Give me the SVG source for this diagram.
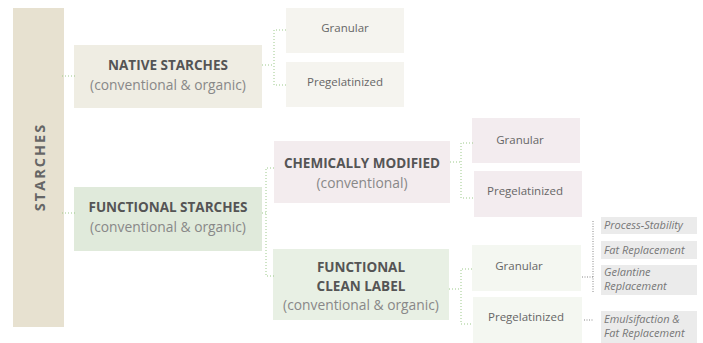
<svg xmlns="http://www.w3.org/2000/svg" width="703" height="343" viewBox="0 0 703 343">
<style>
text{font-family:"Open Sans","Noto Sans",sans-serif;}
.b{font-weight:bold;font-size:13.5px;fill:#555;text-anchor:middle;}
.n{font-size:13.8px;fill:#888;text-anchor:middle;}
.s{font-size:11.5px;fill:#666;text-anchor:middle;}
.i{font-size:11px;fill:#777;font-style:italic;}
.g{fill:none;stroke:#9cc98a;stroke-width:1;stroke-dasharray:1 2;}
.d{fill:none;stroke:#888;stroke-width:1;stroke-dasharray:1 1.5;}
</style>
<g id="starches">
<rect x="13" y="8" width="51" height="319" fill="#e7e1d0"/>
<text transform="translate(45,167) rotate(-90)" style="font-weight:bold;font-size:14.5px;fill:#666;text-anchor:middle;letter-spacing:2px">STARCHES</text>
</g>
<g id="native">
<rect x="74" y="45" width="188" height="63" fill="#efede3"/>
<text class="b" x="168" y="70">NATIVE STARCHES</text>
<text class="n" x="168" y="90">(conventional &amp; organic)</text>
</g>
<g id="native-granular">
<rect x="286" y="8" width="118" height="45" fill="#f5f4ef"/>
<text class="s" x="345" y="32">Granular</text>
</g>
<g id="native-pregel">
<rect x="286" y="62" width="118" height="45" fill="#f5f4ef"/>
<text class="s" x="345" y="86">Pregelatinized</text>
</g>
<g id="functional">
<rect x="74" y="187" width="188" height="64" fill="#e0eadb"/>
<text class="b" x="168" y="212">FUNCTIONAL STARCHES</text>
<text class="n" x="168" y="232">(conventional &amp; organic)</text>
</g>
<g id="chem">
<rect x="274" y="141" width="176" height="62" fill="#f3ecee"/>
<text class="b" x="362" y="168">CHEMICALLY MODIFIED</text>
<text class="n" x="362" y="188">(conventional)</text>
</g>
<g id="chem-granular">
<rect x="472" y="118" width="108" height="45" fill="#f3ecef"/>
<text class="s" x="520" y="144">Granular</text>
</g>
<g id="chem-pregel">
<rect x="474" y="171" width="108" height="46" fill="#f3ecef"/>
<text class="s" x="525" y="195">Pregelatinized</text>
</g>
<g id="fcl">
<rect x="273" y="249" width="176" height="71" fill="#e8f0e4"/>
<text class="b" x="361" y="272">FUNCTIONAL</text>
<text class="b" x="361" y="291">CLEAN LABEL</text>
<text class="n" x="361" y="310">(conventional &amp; organic)</text>
</g>
<g id="fcl-granular">
<rect x="472" y="245" width="109" height="46" fill="#f4f7f1"/>
<text class="s" x="519" y="270">Granular</text>
</g>
<g id="fcl-pregel">
<rect x="473" y="297" width="109" height="46" fill="#f4f7f1"/>
<text class="s" x="526" y="321">Pregelatinized</text>
</g>
<g id="process-stability">
<rect x="601" y="217" width="96" height="17" fill="#ebebeb"/>
<text class="i" x="604" y="229">Process-Stability</text>
</g>
<g id="fat-replacement">
<rect x="601" y="241" width="96" height="18" fill="#ebebeb"/>
<text class="i" x="604" y="254">Fat Replacement</text>
</g>
<g id="gelantine">
<rect x="601" y="265" width="96" height="30" fill="#ebebeb"/>
<text class="i" x="604" y="276">Gelantine</text>
<text class="i" x="604" y="289.5">Replacement</text>
</g>
<g id="emulsifaction">
<rect x="601" y="311" width="96" height="32" fill="#ebebeb"/>
<text class="i" x="604" y="323">Emulsifaction &amp;</text>
<text class="i" x="604" y="336.5">Fat Replacement</text>
</g>
<g id="connectors">
<path class="g" d="M62 76H77"/>
<path class="g" d="M262 65H274M286 30H274V85H286"/>
<path class="g" d="M62 213H77"/>
<path class="g" d="M262 213H266M274 168H266V276H274"/>
<path class="g" d="M450 162H461M473 143H461V198H473"/>
<path class="g" d="M449 289H461M472 269H461V324H473"/>
<path class="d" d="M582 277H593M593 221V292"/>
<path class="d" d="M584 320H593"/>
</g>
</svg>
